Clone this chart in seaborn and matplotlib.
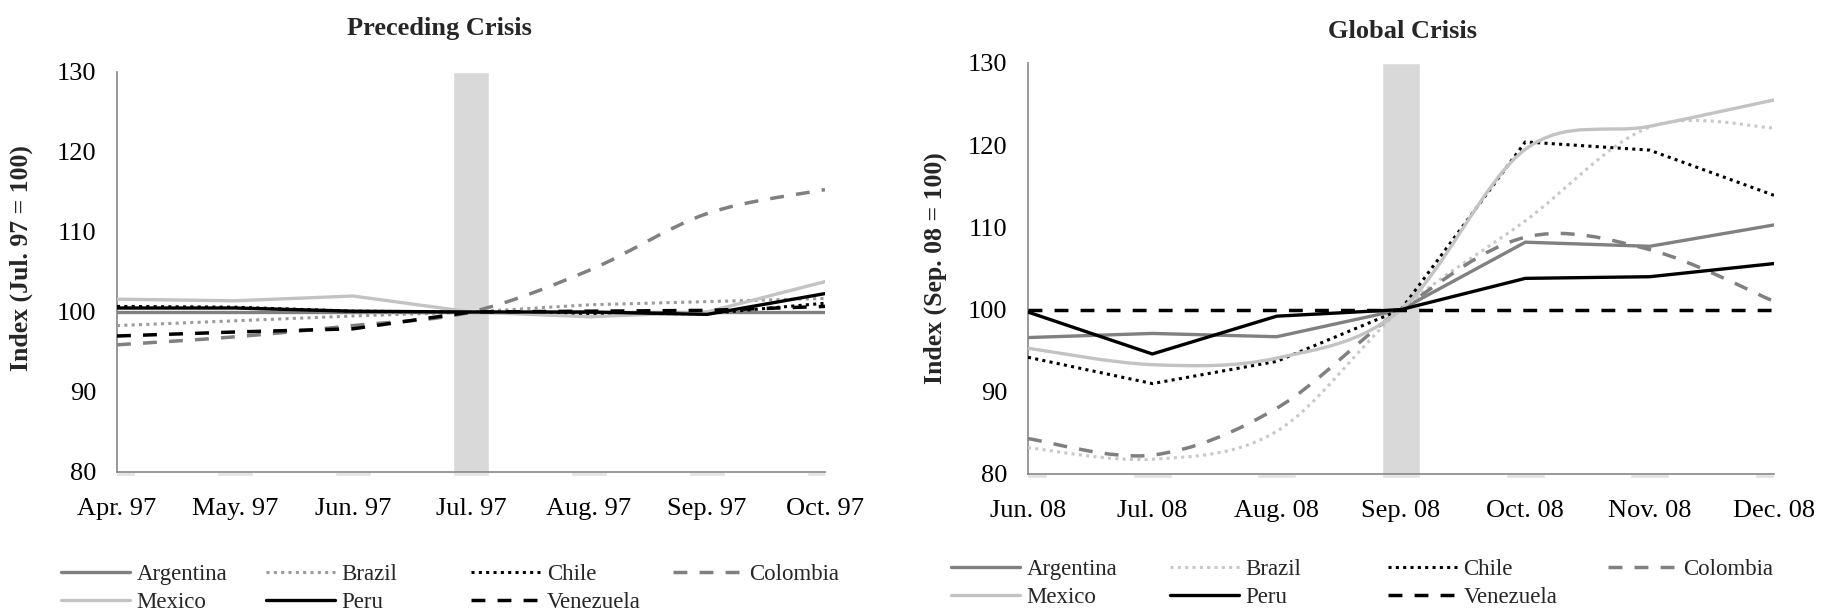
import numpy as np
import matplotlib
matplotlib.use("Agg")
import matplotlib.pyplot as plt
from matplotlib.path import Path
from matplotlib.patches import PathPatch, Rectangle
from matplotlib.lines import Line2D
import seaborn as sns

# ---------------------------------------------------------------- data
countries = ["Argentina", "Brazil", "Chile", "Colombia", "Mexico", "Peru", "Venezuela"]

months_97 = ["Apr. 97", "May. 97", "Jun. 97", "Jul. 97", "Aug. 97", "Sep. 97", "Oct. 97"]
months_08 = ["Jun. 08", "Jul. 08", "Aug. 08", "Sep. 08", "Oct. 08", "Nov. 08", "Dec. 08"]

# Preceding crisis, index Jul. 97 = 100
argentina_97 = [100.0, 100.0, 100.0, 100.0, 100.0, 100.0, 100.0]
brazil_97 = [98.3, 98.9, 99.5, 100.0, 100.9, 101.3, 101.7]
chile_97 = [100.7, 100.6, 100.1, 100.0, 99.8, 99.8, 101.1]
colombia_97 = [95.9, 96.9, 98.3, 100.0, 105.2, 112.3, 115.3]
mexico_97 = [101.6, 101.4, 102.0, 100.0, 99.4, 100.0, 103.8]
peru_97 = [100.5, 100.5, 100.1, 100.0, 100.0, 99.7, 102.3]
venezuela_97 = [97.0, 97.5, 97.9, 100.0, 100.1, 100.2, 100.7]
crisis_97 = [0, 0, 0, 130, 0, 0, 0]

# Global crisis, index Sep. 08 = 100
argentina_08 = [96.6, 97.1, 96.7, 100.0, 108.2, 107.7, 110.3]
brazil_08 = [83.2, 81.8, 85.2, 100.0, 110.8, 122.2, 122.1]
chile_08 = [94.2, 91.0, 93.7, 100.0, 120.4, 119.4, 113.9]
colombia_08 = [84.3, 82.3, 88.0, 100.0, 108.8, 107.3, 101.0]
mexico_08 = [95.3, 93.3, 94.1, 100.0, 119.5, 122.3, 125.5]
peru_08 = [99.7, 94.6, 99.2, 100.0, 103.8, 104.0, 105.6]
venezuela_08 = [100.0, 100.0, 100.0, 100.0, 100.0, 100.0, 100.0]
crisis_08 = [0, 0, 0, 130, 0, 0, 0]

y_ticks = [80, 90, 100, 110, 120, 130]

# ---------------------------------------------------------------- style
sns.set_style("white")
plt.rcParams["font.family"] = ["Liberation Serif", "DejaVu Serif"]

DOT = (0, (1, 1.4))
DASH = (0, (4.0, 3.5))
SPINE = "#868686"


def series_styles(brazil_color):
    return {
        "Argentina": dict(color="#808080", ls="-", lw=2.4),
        "Brazil": dict(color=brazil_color, ls=DOT, lw=2.2),
        "Chile": dict(color="black", ls=DOT, lw=2.2),
        "Colombia": dict(color="#808080", ls=DASH, lw=2.5),
        "Mexico": dict(color="#c3c3c3", ls="-", lw=2.4),
        "Peru": dict(color="black", ls="-", lw=2.4),
        "Venezuela": dict(color="black", ls=DASH, lw=2.5),
    }


def smooth_path(xs, ys):
    """Cubic Bezier path through the points (Catmull-Rom tangents)."""
    pts = np.column_stack([xs, ys]).astype(float)
    ext = np.vstack([pts[0], pts, pts[-1]])
    verts, codes = [pts[0]], [Path.MOVETO]
    for i in range(len(pts) - 1):
        p0, p1, p2, p3 = ext[i], ext[i + 1], ext[i + 2], ext[i + 3]
        verts += [p1 + (p2 - p0) / 6.0, p2 - (p3 - p1) / 6.0, p2]
        codes += [Path.CURVE4] * 3
    return Path(verts, codes)


def draw_panel(ax, months, series, crisis, smoothed, styles):
    pos = np.arange(len(months))
    # shaded crisis month
    ax.bar(pos, crisis, width=0.31, color="#d9d9d9", zorder=0.5)
    # small bar stubs just below the axis line
    stubs = ax.bar(pos, [0.45] * len(pos), bottom=y_ticks[0] - 0.45, width=0.31,
                   color="#e2e2e2", zorder=0.4, clip_on=True)
    clip = Rectangle((0, -0.1), 1, 1.2, transform=ax.transAxes)
    for s in stubs:
        s.set_clip_path(clip)

    for name in countries:
        st = styles[name]
        vals = series[name]
        if name in smoothed:
            patch = PathPatch(smooth_path(pos, vals), fill=False, edgecolor=st["color"],
                              lw=st["lw"], linestyle=st["ls"], zorder=3,
                              capstyle="butt", joinstyle="round")
            ax.add_patch(patch)
        else:
            sns.lineplot(x=pos, y=vals, ax=ax, color=st["color"], lw=st["lw"],
                         linestyle=st["ls"], zorder=3, solid_joinstyle="round")

    ax.set_xlim(0, len(months) - 1)
    ax.set_ylim(y_ticks[0], y_ticks[-1])
    ax.set_xticks(pos)
    ax.set_xticklabels(months)
    ax.set_yticks(y_ticks)
    ax.set_xlabel("")
    ax.set_ylabel("")
    for side in ("top", "right"):
        ax.spines[side].set_visible(False)
    for side in ("left", "bottom"):
        ax.spines[side].set_color(SPINE)
        ax.spines[side].set_linewidth(1.2)
        ax.spines[side].set_zorder(2.5)
    ax.tick_params(axis="both", direction="out", length=4, width=1.2, color=SPINE,
                   labelsize=19, labelcolor="black")
    ax.tick_params(axis="x", pad=15)
    ax.tick_params(axis="y", pad=11)


def draw_legend(fig, styles, col_x, y_top):
    cols = [["Argentina", "Mexico"], ["Brazil", "Peru"], ["Chile", "Venezuela"], ["Colombia"]]
    for x, names in zip(col_x, cols):
        handles = [Line2D([], [], color=styles[n]["color"], lw=styles[n]["lw"],
                          linestyle=styles[n]["ls"]) for n in names]
        fig.legend(handles, names, loc="upper left", bbox_to_anchor=(x, y_top),
                   frameon=False, fontsize=16.5, handlelength=3.0, handletextpad=0.3,
                   labelspacing=0.3, borderpad=0, borderaxespad=0)


W, H = 1829, 615
fig = plt.figure(figsize=(W / 100, H / 100), dpi=100)

ax1 = fig.add_axes([117 / W, 1 - 472 / H, (825 - 117) / W, (472 - 72) / H])
ax2 = fig.add_axes([1028 / W, 1 - 474 / H, (1774 - 1028) / W, (474 - 63) / H])

styles_97 = series_styles("#9b9b9b")
styles_08 = series_styles("#c8c8c8")

series_97 = dict(zip(countries, [argentina_97, brazil_97, chile_97, colombia_97,
                                 mexico_97, peru_97, venezuela_97]))
series_08 = dict(zip(countries, [argentina_08, brazil_08, chile_08, colombia_08,
                                 mexico_08, peru_08, venezuela_08]))

draw_panel(ax1, months_97, series_97, crisis_97, {"Colombia"}, styles_97)
draw_panel(ax2, months_08, series_08, crisis_08,
           {"Brazil", "Colombia", "Mexico"}, styles_08)

fig.text(439 / W, 1 - 29 / H, "Preceding Crisis", ha="center", va="center",
         fontsize=19, fontweight="bold")
fig.text(1403 / W, 1 - 31 / H, "Global Crisis", ha="center", va="center",
         fontsize=19, fontweight="bold")
fig.text(21 / W, 1 - 258 / H, "Index (Jul. 97 = 100)", rotation=90, ha="center",
         va="center", fontsize=18.5, fontweight="bold")
fig.text(935 / W, 1 - 268 / H, "Index (Sep. 08 = 100)", rotation=90, ha="center",
         va="center", fontsize=18.5, fontweight="bold")

draw_legend(fig, styles_97, [61 / W, 266 / W, 471 / W, 673 / W], 1 - 564 / H)
draw_legend(fig, styles_08, [951 / W, 1170 / W, 1388 / W, 1608 / W], 1 - 559 / H)

fig.savefig("out.png", dpi=100, facecolor="white")
